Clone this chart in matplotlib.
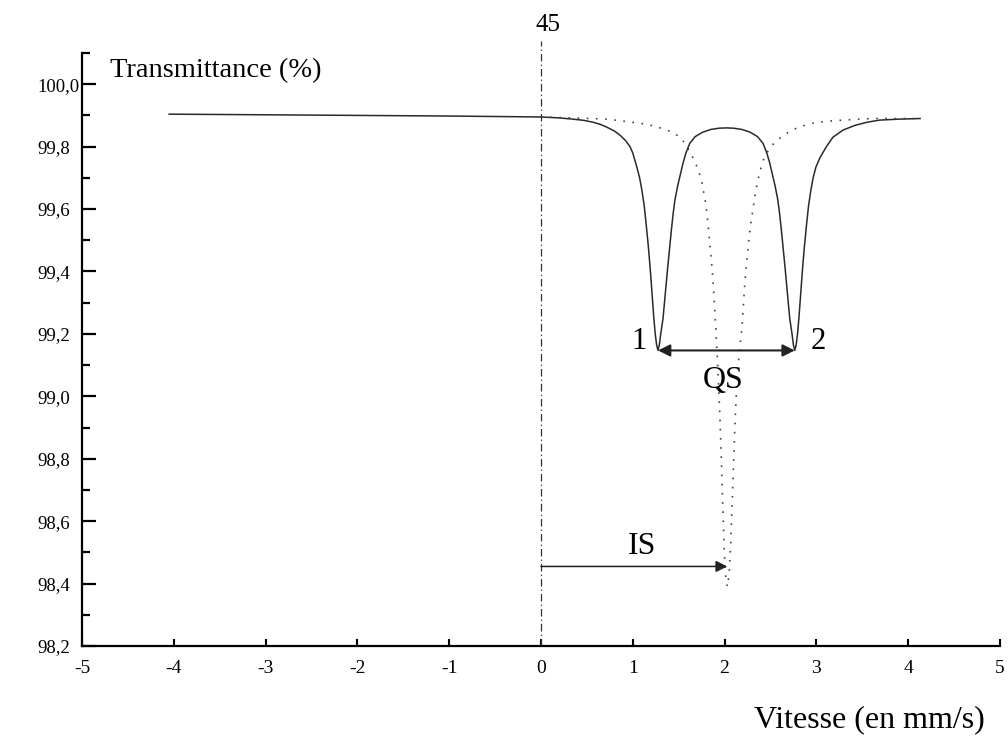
import matplotlib
matplotlib.use("Agg")
import matplotlib.pyplot as plt
from matplotlib.ticker import FixedLocator, FixedFormatter, MultipleLocator

plt.rcParams['font.family'] = ['Liberation Serif', 'DejaVu Serif']
plt.rcParams['axes.unicode_minus'] = False

# Doublet (solid line)
doublet_x = [-4.05, -3.0, -2.0, -1.0, 0.0, 0.2, 0.35, 0.47, 0.57, 0.65, 0.72, 0.80,
             0.86, 0.92, 0.97, 1.0, 1.045, 1.075, 1.10, 1.125, 1.145, 1.17, 1.19, 1.21,
             1.23, 1.245, 1.26, 1.275, 1.29, 1.305, 1.33, 1.355, 1.38, 1.40, 1.42, 1.44,
             1.46, 1.49, 1.51, 1.55, 1.58, 1.62, 1.68, 1.76, 1.85, 1.94, 2.02, 2.10,
             2.19, 2.28, 2.36, 2.42, 2.46, 2.49, 2.53, 2.55, 2.58, 2.60, 2.62, 2.64,
             2.66, 2.685, 2.71, 2.735, 2.75, 2.765, 2.78, 2.795, 2.81, 2.83, 2.85, 2.87,
             2.895, 2.915, 2.94, 2.965, 2.995, 3.04, 3.11, 3.18, 3.29, 3.42, 3.55, 3.69,
             3.9, 4.13]
doublet_y = [99.904, 99.902, 99.900, 99.898, 99.895, 99.892, 99.888, 99.884, 99.878, 99.871,
             99.862, 99.850, 99.837, 99.82, 99.80, 99.78, 99.734, 99.70, 99.66, 99.61,
             99.555, 99.48, 99.41, 99.33, 99.25, 99.20, 99.165, 99.147, 99.165, 99.20,
             99.25, 99.33, 99.41, 99.47, 99.53, 99.585, 99.63, 99.675, 99.70, 99.75,
             99.78, 99.81, 99.832, 99.846, 99.855, 99.859, 99.86, 99.859, 99.855, 99.846,
             99.832, 99.81, 99.78, 99.75, 99.70, 99.675, 99.63, 99.585, 99.53, 99.47,
             99.41, 99.33, 99.25, 99.20, 99.165, 99.147, 99.165, 99.20, 99.25, 99.33,
             99.41, 99.48, 99.555, 99.61, 99.66, 99.70, 99.734, 99.765, 99.80, 99.83,
             99.853, 99.868, 99.878, 99.885, 99.888, 99.89]

# Singlet (dotted line)
singlet_x = [0.0, 0.35, 0.72, 1.08, 1.2, 1.30, 1.37, 1.43, 1.48, 1.53, 1.57, 1.62,
             1.68, 1.72, 1.75, 1.80, 1.83, 1.855, 1.875, 1.89, 1.906, 1.92, 1.935, 1.95,
             1.965, 1.98, 1.995, 2.01, 2.03, 2.05, 2.065, 2.08, 2.095, 2.115, 2.135, 2.16,
             2.19, 2.22, 2.25, 2.28, 2.31, 2.34, 2.385, 2.42, 2.48, 2.55, 2.65, 2.75,
             2.85, 2.96, 3.1, 3.29, 3.62, 4.13]
singlet_y = [99.895, 99.892, 99.888, 99.875, 99.868, 99.86, 99.853, 99.846, 99.837, 99.825,
             99.81, 99.785, 99.75, 99.72, 99.69, 99.61, 99.52, 99.44, 99.37, 99.29,
             99.21, 99.13, 99.04, 98.93, 98.80, 98.65, 98.52, 98.43, 98.39, 98.43,
             98.52, 98.63, 98.76, 98.92, 99.05, 99.14, 99.22, 99.36, 99.46, 99.54,
             99.60, 99.66, 99.72, 99.756, 99.79, 99.815, 99.838, 99.855, 99.866, 99.875,
             99.881, 99.885, 99.89, 99.89]

peak1 = (1.275, 99.147)
peak2 = (2.765, 99.147)
is_value = 2.03
is_level = 98.455

ytick_vals = [98.2, 98.4, 98.6, 98.8, 99.0, 99.2, 99.4, 99.6, 99.8, 100.0]
ytick_labels = ['98,2', '98,4', '98,6', '98,8', '99,0', '99,2', '99,4', '99,6', '99,8', '100,0']
xtick_vals = [-5, -4, -3, -2, -1, 0, 1, 2, 3, 4, 5]

fig = plt.figure(figsize=(10.08, 7.39), dpi=100)
ax = fig.add_axes([0.0813, 0.1258, 0.9107, 0.8025])

ax.plot(doublet_x, doublet_y, color='#2a2a2a', lw=1.1)
ax.plot(singlet_x, singlet_y, color='#444444', lw=1.2, linestyle=(0, (1, 4.5)))

# zero-velocity reference
ax.plot([0, 0], [98.2, 100.14], color='#333333', lw=0.9,
        linestyle=(0, (6, 2.5, 1, 2.5)), clip_on=False)

# QS and IS arrows
ax.annotate('', xy=peak2, xytext=peak1,
            arrowprops=dict(arrowstyle='<|-|>', color='#222222', lw=1.5,
                            mutation_scale=18, shrinkA=0, shrinkB=0))
ax.annotate('', xy=(is_value, is_level), xytext=(0, is_level),
            arrowprops=dict(arrowstyle='-|>', color='#222222', lw=1.1,
                            mutation_scale=17, shrinkA=0, shrinkB=0))

ax.text(1.07, 99.175, '1', fontsize=22, ha='center', va='center')
ax.text(3.02, 99.175, '2', fontsize=22, ha='center', va='center')
ax.text(1.98, 99.05, 'QS', fontsize=23, ha='center', va='center')
ax.text(1.1, 98.52, 'IS', fontsize=23, ha='center', va='center')
ax.text(0.08, 100.19, '45', fontsize=18, ha='center', va='center', clip_on=False)
ax.text(-4.69, 100.045, 'Transmittance (%)', fontsize=20.5, ha='left', va='center')
fig.text(0.977, 0.026, 'Vitesse (en mm/s)', fontsize=23, ha='right', va='center')

ax.set_xlim(-5, 5)
ax.set_ylim(98.2, 100.1)
ax.spines['top'].set_visible(False)
ax.spines['right'].set_visible(False)
ax.spines['left'].set_linewidth(1.6)
ax.spines['bottom'].set_linewidth(1.6)

ax.xaxis.set_major_locator(FixedLocator(xtick_vals))
ax.yaxis.set_major_locator(FixedLocator(ytick_vals))
ax.yaxis.set_major_formatter(FixedFormatter(ytick_labels))
ax.yaxis.set_minor_locator(MultipleLocator(0.1))
ax.tick_params(axis='y', which='major', direction='in', length=10, width=1.6,
               labelsize=13.5, pad=32)
ax.tick_params(axis='y', which='minor', direction='in', length=6, width=1.6)
ax.tick_params(axis='x', which='major', direction='in', length=5, width=1.5,
               labelsize=14, pad=10)
for lab in ax.get_yticklabels():
    lab.set_horizontalalignment('left')

fig.savefig('out.png', dpi=100)
